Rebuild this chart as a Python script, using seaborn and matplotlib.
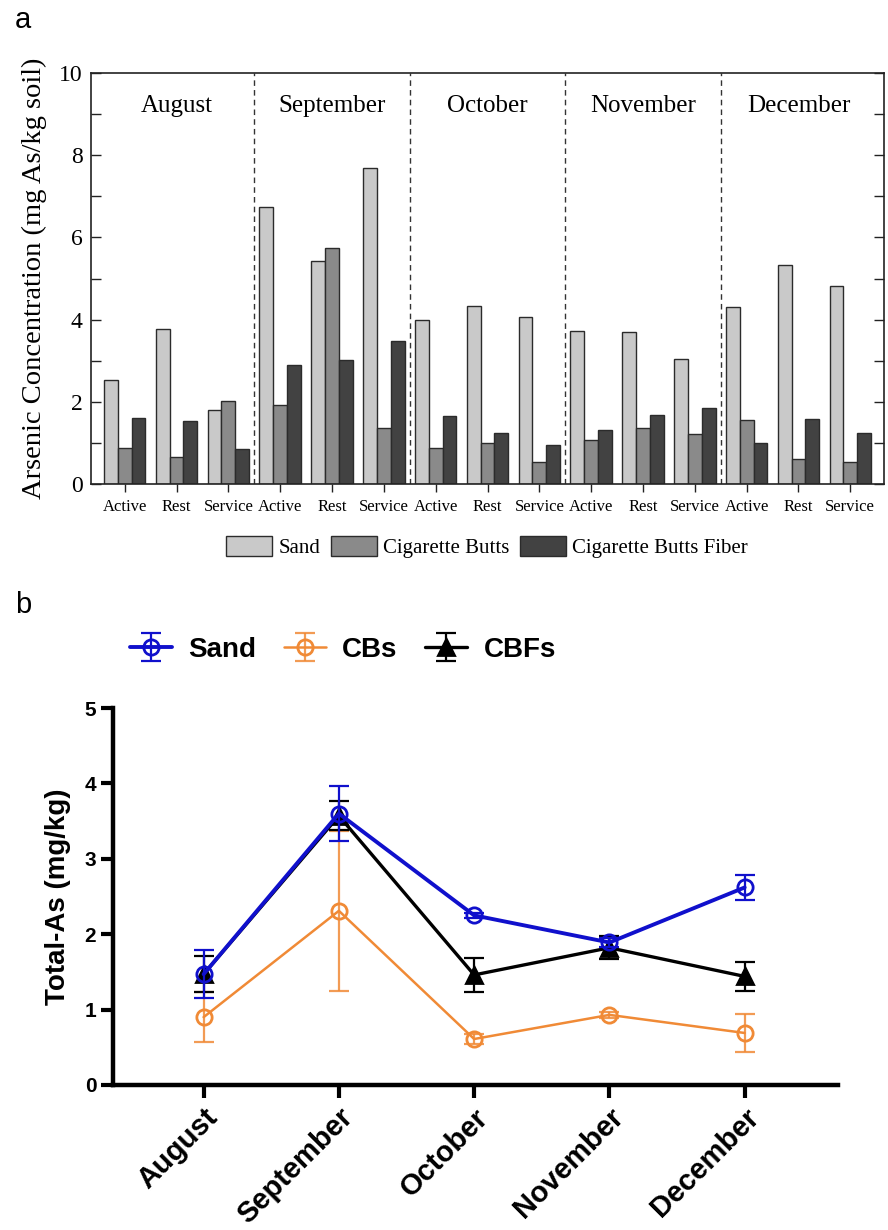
import numpy as np
import pandas as pd
import matplotlib
matplotlib.use("Agg")
import matplotlib.pyplot as plt
import seaborn as sns
from matplotlib.ticker import MultipleLocator

# ---------------- data ----------------
months = ["August", "September", "October", "November", "December"]
sites = ["Active", "Rest", "Service"]
materials = ["Sand", "Cigarette Butts", "Cigarette Butts Fiber"]

sand = [2.52, 3.78, 1.79, 6.75, 5.42, 7.69, 3.98, 4.33, 4.07, 3.72, 3.69, 3.04, 4.31, 5.32, 4.81]
cig_butts = [0.87, 0.65, 2.01, 1.91, 5.75, 1.37, 0.87, 0.99, 0.53, 1.08, 1.36, 1.22, 1.56, 0.60, 0.54]
cig_fiber = [1.60, 1.54, 0.84, 2.90, 3.02, 3.47, 1.66, 1.24, 0.95, 1.31, 1.67, 1.84, 0.99, 1.57, 1.24]

series_b = ["Sand", "CBs", "CBFs"]
total_sand = [1.47, 3.60, 2.25, 1.89, 2.62]
total_sand_err = [0.32, 0.37, 0.03, 0.06, 0.17]
total_cbs = [0.90, 2.31, 0.61, 0.93, 0.69]
total_cbs_err = [0.33, 1.06, 0.06, 0.04, 0.25]
total_cbfs = [1.47, 3.57, 1.46, 1.82, 1.44]
total_cbfs_err = [0.24, 0.19, 0.22, 0.15, 0.19]

# ---------------- style ----------------
sns.set_theme(style="ticks")
plt.rcParams["font.family"] = ["Liberation Serif", "DejaVu Serif"]
for k in ["text.color", "axes.labelcolor", "xtick.color", "ytick.color"]:
    plt.rcParams[k] = "black"
SERIF = ["Liberation Serif", "DejaVu Serif"]
SANS = ["Liberation Sans", "DejaVu Sans"]

fig = plt.figure(figsize=(8.88, 12.3), dpi=100)

# ================= panel a =================
ax1 = fig.add_axes([91 / 888, 1 - 484 / 1230, (884 - 91) / 888, (484 - 73) / 1230])
keys = [f"{m}|{s}" for m in months for s in sites]
df = pd.DataFrame({
    "key": keys * 3,
    "value": sand + cig_butts + cig_fiber,
    "material": np.repeat(materials, len(keys)),
})
bar_colors = ["#c9c9c9", "#8a8a8a", "#424242"]
sns.barplot(data=df, x="key", y="value", hue="material", order=keys,
            hue_order=materials, palette=bar_colors, width=0.8, gap=0,
            errorbar=None, edgecolor="#2b2b2b", linewidth=1.0, ax=ax1,
            saturation=1)
handles, labels = ax1.get_legend_handles_labels()
if ax1.get_legend() is not None:
    ax1.get_legend().remove()

n = len(keys)
ax1.set_xlim(-0.65, n - 1 + 0.65)
ax1.set_ylim(0, 10)
ax1.set_xticks(range(n))
ax1.set_xticklabels(sites * len(months), fontsize=12, family=SERIF)
ax1.yaxis.set_major_locator(MultipleLocator(2))
ax1.yaxis.set_minor_locator(MultipleLocator(1))
ax1.tick_params(axis="y", which="both", direction="in", length=7, width=1.0,
                left=True, right=True, labelsize=17, color="#222222", pad=6)
ax1.tick_params(axis="x", direction="out", length=6, width=1.0, pad=5, color="#222222")
for lab in ax1.get_yticklabels():
    lab.set_family(SERIF)
for sp in ax1.spines.values():
    sp.set_visible(True)
    sp.set_linewidth(1.2)
    sp.set_color("#222222")
ax1.set_xlabel("")
ax1.set_ylabel("Arsenic Concentration (mg As/kg soil)", fontsize=20.5, family=SERIF, labelpad=9)

for i in range(1, len(months)):
    ax1.axvline(i * len(sites) - 0.5, color="#333333", lw=1.0, ls=(0, (4, 3)))
for i, m in enumerate(months):
    ax1.text(i * len(sites) + 1, 9.2, m, ha="center", va="center", fontsize=18, family=SERIF)

fig.legend(handles, labels, loc="center", bbox_to_anchor=(487 / 888, 1 - 547 / 1230),
           ncol=3, frameon=False, prop={"family": SERIF, "size": 15},
           handlelength=2.2, handleheight=1.1, handletextpad=0.3, columnspacing=0.5,
           borderpad=0)

fig.text(15 / 888, 1 - 20 / 1230, "a", fontsize=21, family=SANS, va="center", ha="left")

# ================= panel b =================
ax2 = fig.add_axes([113 / 888, 1 - 1085 / 1230, (838 - 113) / 888, (1085 - 708) / 1230])
idx = np.arange(len(months))
blue = "#1010cc"
orange = "#f08a36"
black = "#000000"

specs = [
    ("CBs", total_cbs, total_cbs_err, orange, "o", 1.8, 2),
    ("CBFs", total_cbfs, total_cbfs_err, black, "^", 2.4, 3),
    ("Sand", total_sand, total_sand_err, blue, "o", 2.8, 4),
]
legend_handles = {}
for name, vals, errs, col, mk, lw, z in specs:
    filled = mk == "^"
    sns.lineplot(x=idx, y=vals, ax=ax2, color=col, lw=lw, marker=mk,
                 markersize=11,
                 markerfacecolor=col if filled else "none",
                 markeredgecolor=col, markeredgewidth=2.0, zorder=z, label=name)
    line = ax2.get_lines()[-1]
    eb = ax2.errorbar(idx, vals, yerr=errs, fmt="none", ecolor=col, elinewidth=1.6,
                      capsize=7, capthick=1.6, zorder=z, alpha=0.85 if col == orange else 1)
    legend_handles[name] = (eb, line)
if ax2.get_legend() is not None:
    ax2.get_legend().remove()

ax2.set_xlim(-0.67, len(months) - 1 + 0.69)
ax2.set_ylim(0, 5)
ax2.set_yticks(range(0, 6))
ax2.set_xticks(idx)
ax2.set_xticklabels(months, rotation=45, ha="right", rotation_mode="anchor",
                    fontsize=21, fontweight="bold", family=SANS)
for lab in ax2.get_yticklabels():
    lab.set_family(SANS)
    lab.set_fontweight("bold")
    lab.set_fontsize(15)
ax2.tick_params(axis="both", direction="out", length=9, width=3, color="black")
ax2.tick_params(axis="x", pad=4)
ax2.tick_params(axis="y", pad=3)
sns.despine(ax=ax2)
for sp in ["left", "bottom"]:
    ax2.spines[sp].set_linewidth(3.2)
    ax2.spines[sp].set_color("black")
ax2.set_xlabel("")
ax2.set_ylabel("Total-As (mg/kg)", fontsize=20, fontweight="bold", family=SANS, labelpad=10)

fig.legend([legend_handles[s] for s in series_b], series_b, loc="center left",
           bbox_to_anchor=(116 / 888, 1 - 650 / 1230), ncol=3, frameon=False,
           prop={"family": SANS, "size": 20, "weight": "bold"},
           handlelength=1.5, handletextpad=0.6, columnspacing=1.0, borderpad=0)

fig.text(15 / 888, 1 - 605 / 1230, "b", fontsize=21, family=SANS, va="center", ha="left")

fig.savefig("out.png", dpi=100)
